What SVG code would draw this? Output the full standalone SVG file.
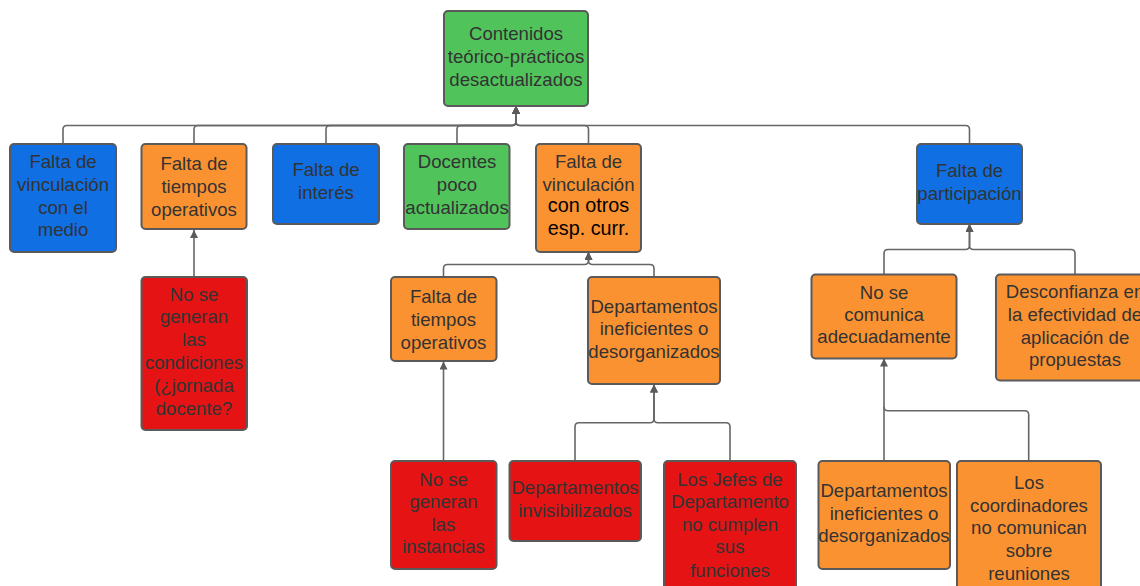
<svg xmlns="http://www.w3.org/2000/svg" width="1140" height="586" viewBox="0 0 1140 586">
  <style>
    .box { stroke: #5a5a5a; stroke-width: 2; }
    .green { fill: #51c35b; }
    .blue { fill: #0f6fe3; }
    .orange { fill: #fb9231; }
    .red { fill: #e51313; }
    text { font-family: "Liberation Sans", Arial, sans-serif; font-size: 18.6px; fill: #333333; text-anchor: middle; dominant-baseline: central; }
    text .dark { fill: #000000; font-size: 19.8px; }
    .link { fill: none; stroke: #666666; stroke-width: 1.6; marker-end: url(#arrow); }
    .plain { fill: none; stroke: #666666; stroke-width: 1.6; }
  </style>
  <defs>
    <marker id="arrow" viewBox="0 0 10 10" refX="10" refY="5" markerWidth="11" markerHeight="8" markerUnits="userSpaceOnUse" orient="auto">
      <path d="M0,0 L10,5 L0,10 z" fill="#5a5a5a"/>
    </marker>
  </defs>

  <rect width="1140" height="586" fill="#ffffff"/>

  <!-- connectors -->
  <g id="connectors">
    <!-- first level into the root -->
    <path class="link" d="M63,144 V129.5 Q63,125.5 67,125.5 H512 Q516,125.5 516,121.5 V106"/>
    <path class="link" d="M194,144 V129.5 Q194,125.5 198,125.5 H512 Q516,125.5 516,121.5 V106"/>
    <path class="link" d="M326,144 V129.5 Q326,125.5 330,125.5 H512 Q516,125.5 516,121.5 V106"/>
    <path class="link" d="M457,144 V129.5 Q457,125.5 461,125.5 H512 Q516,125.5 516,121.5 V106"/>
    <path class="link" d="M588.5,144 V129.5 Q588.5,125.5 584.5,125.5 H520 Q516,125.5 516,121.5 V106"/>
    <path class="link" d="M969.5,144 V129.5 Q969.5,125.5 965.5,125.5 H520 Q516,125.5 516,121.5 V106"/>

    <!-- under "Falta de tiempos operativos" -->
    <path class="link" d="M194,277 V230"/>

    <!-- into "Falta de vinculación con otros esp. curr." -->
    <path class="link" d="M443.5,277 V268.5 Q443.5,264.5 447.5,264.5 H584.5 Q588.5,264.5 588.5,260.5 V252"/>
    <path class="link" d="M654,277 V268.5 Q654,264.5 650,264.5 H592.5 Q588.5,264.5 588.5,260.5 V252"/>

    <!-- into the second "Falta de tiempos operativos" -->
    <path class="link" d="M443.5,461 V361.5"/>

    <!-- into "Departamentos ineficientes o desorganizados" -->
    <path class="link" d="M575,461 V426.7 Q575,422.7 579,422.7 H650 Q654,422.7 654,418.7 V384.5"/>
    <path class="link" d="M730,461 V426.7 Q730,422.7 726,422.7 H658 Q654,422.7 654,418.7 V384.5"/>

    <!-- into "Falta de participación" -->
    <path class="link" d="M884,274.5 V253.5 Q884,249.5 888,249.5 H965.5 Q969.5,249.5 969.5,245.5 V224"/>
    <path class="link" d="M1075,274.5 V253.5 Q1075,249.5 1071,249.5 H973.5 Q969.5,249.5 969.5,245.5 V224"/>

    <!-- into "No se comunica adecuadamente" -->
    <path class="link" d="M884,461 V358.5"/>
    <path class="plain" d="M1028.7,461 V414.7 Q1028.7,410.7 1024.7,410.7 H888 Q884,410.7 884,406.7"/>
  </g>

  <!-- root -->
  <g id="n-contenidos">
    <rect class="box green" x="444" y="11" width="144" height="95" rx="4"/>
    <text x="516" y="33.3">Contenidos</text>
    <text x="516" y="56.3">teórico-prácticos</text>
    <text x="516" y="79">desactualizados</text>
  </g>

  <!-- first level -->
  <g id="n-vinculacion-medio">
    <rect class="box blue" x="10" y="144" width="106" height="108" rx="4"/>
    <text x="63" y="161.7">Falta de</text>
    <text x="63" y="184.3">vinculación</text>
    <text x="63" y="207.3">con el</text>
    <text x="63" y="229.3">medio</text>
  </g>

  <g id="n-tiempos-1">
    <rect class="box orange" x="141.5" y="144" width="105" height="85" rx="4"/>
    <text x="194" y="163.3">Falta de</text>
    <text x="194" y="186">tiempos</text>
    <text x="194" y="209">operativos</text>
  </g>

  <g id="n-interes">
    <rect class="box blue" x="273" y="144" width="106" height="80" rx="4"/>
    <text x="326" y="169.3">Falta de</text>
    <text x="326" y="192.3">interés</text>
  </g>

  <g id="n-docentes">
    <rect class="box green" x="404" y="144" width="105.5" height="85" rx="4"/>
    <text x="457" y="161.7">Docentes</text>
    <text x="457" y="184.3">poco</text>
    <text x="457" y="207.3">actualizados</text>
  </g>

  <g id="n-vinculacion-esp">
    <rect class="box orange" x="536" y="144" width="105" height="108" rx="4"/>
    <text x="588.5" y="161.7">Falta de</text>
    <text x="588.5" y="184.3">vinculación</text>
    <text x="588.5" y="205"><tspan class="dark">con otros</tspan></text>
    <text x="588.5" y="227.7"><tspan class="dark">esp. curr.</tspan></text>
  </g>

  <g id="n-participacion">
    <rect class="box blue" x="917" y="144" width="105" height="80" rx="4"/>
    <text x="969.5" y="170">Falta de</text>
    <text x="969.5" y="193">participación</text>
  </g>

  <!-- second level -->
  <g id="n-condiciones">
    <rect class="box red" x="141.5" y="277" width="105.5" height="153" rx="4"/>
    <text x="194" y="294">No se</text>
    <text x="194" y="316.7">generan</text>
    <text x="194" y="339.5">las</text>
    <text x="194" y="362.5">condiciones</text>
    <text x="194" y="385.5">(¿jornada</text>
    <text x="194" y="408">docente?</text>
  </g>

  <g id="n-tiempos-2">
    <rect class="box orange" x="391" y="277" width="105.5" height="84" rx="4"/>
    <text x="443.5" y="296.7">Falta de</text>
    <text x="443.5" y="319.3">tiempos</text>
    <text x="443.5" y="342.3">operativos</text>
  </g>

  <g id="n-departamentos-1">
    <rect class="box orange" x="588" y="277" width="132" height="107" rx="4"/>
    <text x="654" y="306">Departamentos</text>
    <text x="654" y="328.7">ineficientes o</text>
    <text x="654" y="351">desorganizados</text>
  </g>

  <g id="n-no-comunica">
    <rect class="box orange" x="811.5" y="274.5" width="145" height="84" rx="4"/>
    <text x="884" y="292.3">No se</text>
    <text x="884" y="314.3">comunica</text>
    <text x="884" y="336.7">adecuadamente</text>
  </g>

  <g id="n-desconfianza">
    <rect class="box orange" x="996" y="274.5" width="158" height="106" rx="4"/>
    <text x="1075" y="291.7">Desconfianza en</text>
    <text x="1075" y="314.3">la efectividad de</text>
    <text x="1075" y="337.3">aplicación de</text>
    <text x="1075" y="359.3">propuestas</text>
  </g>

  <!-- third level -->
  <g id="n-instancias">
    <rect class="box red" x="391" y="461" width="105.5" height="108" rx="4"/>
    <text x="443.5" y="479">No se</text>
    <text x="443.5" y="501.7">generan</text>
    <text x="443.5" y="524.3">las</text>
    <text x="443.5" y="546.7">instancias</text>
  </g>

  <g id="n-invisibilizados">
    <rect class="box red" x="509.5" y="461" width="131.5" height="80" rx="4"/>
    <text x="575" y="487.7">Departamentos</text>
    <text x="575" y="510">invisibilizados</text>
  </g>

  <g id="n-jefes">
    <rect class="box red" x="664" y="461" width="132" height="135" rx="4"/>
    <text x="730" y="479">Los Jefes de</text>
    <text x="730" y="501.7">Departamento</text>
    <text x="730" y="524.3">no cumplen</text>
    <text x="730" y="546.7">sus</text>
    <text x="730" y="570">funciones</text>
  </g>

  <g id="n-departamentos-2">
    <rect class="box orange" x="818.5" y="461" width="131.5" height="108" rx="4"/>
    <text x="884" y="490">Departamentos</text>
    <text x="884" y="513.3">ineficientes o</text>
    <text x="884" y="535.7">desorganizados</text>
  </g>

  <g id="n-coordinadores">
    <rect class="box orange" x="957" y="461" width="144" height="140" rx="4"/>
    <text x="1029" y="482.3">Los</text>
    <text x="1029" y="505">coordinadores</text>
    <text x="1029" y="527.7">no comunican</text>
    <text x="1029" y="550.7">sobre</text>
    <text x="1029" y="573.3">reuniones</text>
  </g>
</svg>
